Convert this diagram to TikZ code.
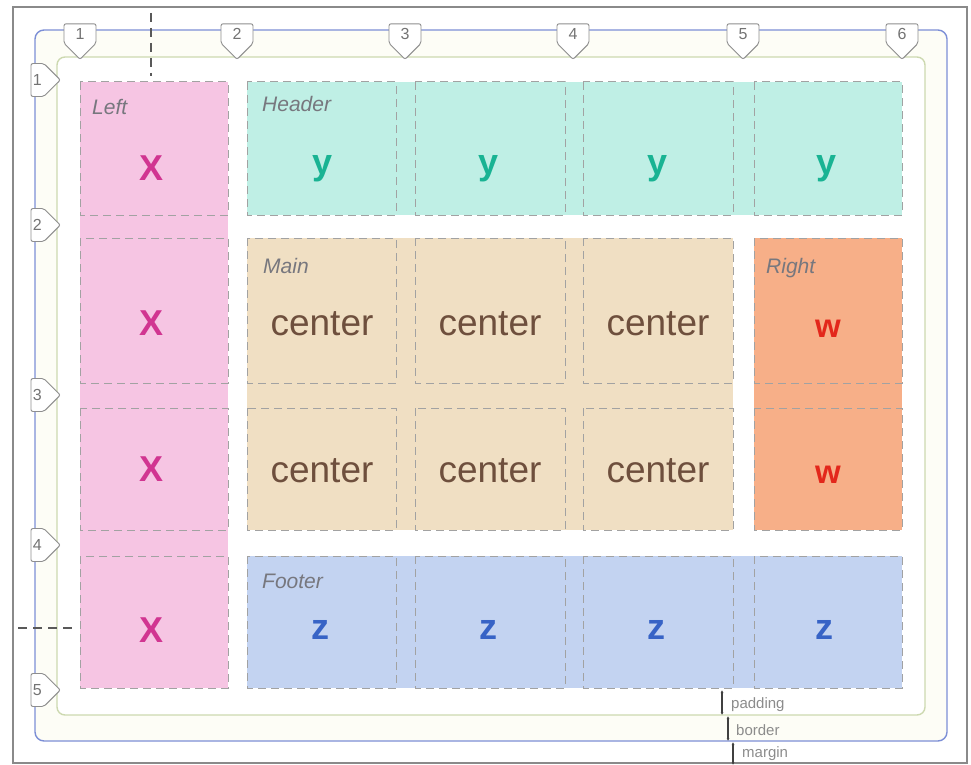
\documentclass[tikz,border=0pt]{standalone}
\usepackage{fontspec}
\setmainfont{Liberation Sans}
\usetikzlibrary{shapes.symbols,arrows.meta}

\definecolor{framegray}{HTML}{8A8A8A}
\definecolor{marginblue}{HTML}{7C8FD6}
\definecolor{bordergreen}{HTML}{CDD9B0}
\definecolor{creambg}{HTML}{FDFDF6}
\definecolor{cellgray}{HTML}{A2A2A2}
\definecolor{labelgray}{HTML}{77777E}
\definecolor{markgray}{HTML}{8E8E8E}
\definecolor{pinkfill}{HTML}{F6C5E3}
\definecolor{xcol}{HTML}{D13591}
\definecolor{tealfill}{HTML}{BFEFE5}
\definecolor{ycol}{HTML}{19B393}
\definecolor{tanfill}{HTML}{F0DFC3}
\definecolor{centercol}{HTML}{6E4F3D}
\definecolor{orangefill}{HTML}{F7AF88}
\definecolor{wcol}{HTML}{E3271B}
\definecolor{bluefill}{HTML}{C3D3F1}
\definecolor{zcol}{HTML}{3763C6}

\tikzset{
  cellbox/.style={draw=cellgray, line width=1pt, dash pattern=on 8pt off 5pt},
  areaname/.style={anchor=base west, text=labelgray, font=\itshape\fontsize{21}{21}\selectfont, inner sep=0pt},
  bigletter/.style={anchor=base, font=\bfseries\fontsize{36}{36}\selectfont, inner sep=0pt},
  gridmark/.style={signal, draw=markgray, fill=white, line width=0.9pt, rounded corners=2pt,
    text=black!55, font=\fontsize{16}{16}\selectfont, inner sep=2pt},
  guide/.style={draw=black!65, line width=1.5pt, dash pattern=on 9pt off 6pt},
  gap/.style={draw=black!75, line width=1.2pt, {Latex[length=3pt,width=3pt]}-{Latex[length=3pt,width=3pt]}},
  gapname/.style={anchor=base west, text=black!45, font=\fontsize{15}{15}\selectfont, inner sep=0pt}
}

\begin{document}
\begin{tikzpicture}[x=1pt,y=-1pt]

      \useasboundingbox (0,0) rectangle (971,765);

      % outer frame, margin and border boxes
      \draw[framegray, line width=1.5pt] (13,7) rectangle (967,763);
      \draw[marginblue, line width=1.4pt, fill=creambg, rounded corners=9pt] (35,30) rectangle (947,741);
      \draw[bordergreen, line width=1.4pt, fill=white, rounded corners=8pt] (57,57) rectangle (925,715);

      % grid areas
      \fill[pinkfill]   (80,82)  rectangle (228,688);
      \fill[tealfill]   (247,82) rectangle (902,215);
      \fill[tanfill]    (247,238) rectangle (733,530);
      \fill[orangefill] (754,238) rectangle (902,530);
      \fill[bluefill]   (247,556) rectangle (902,688);

      % grid cells
      \foreach \xa/\xb in {80/228,247/396,415/565,583/733,754/902}
        \foreach \ya/\yb in {82/215,238/383,408/530,556/688}
          \draw[cellbox] (\xa,\ya) rectangle (\xb,\yb);

      % alignment guides
      \coordinate (gv1) at (151,13);
      \coordinate (gv2) at (151,76);
      \coordinate (gh1) at (18,628);
      \coordinate (gh2) at (76,628);
      \draw[guide] (gv1) -- (gv2);
      \draw[guide] (gh1) -- (gh2);

      \begin{scope}[every node/.style={areaname}]
        \node (left)   at (92,115)  {Left};
        \node (header) at (262,112) {Header};
        \node (main)   at (263,273) {Main};
        \node (right)  at (766,273) {Right};
        \node (footer) at (262,588) {Footer};
      \end{scope}

      \begin{scope}[every node/.style={bigletter}]
        \node[text=xcol] (x1) at (152,180) {X};
        \node[text=xcol] (x2) at (152,335) {X};
        \node[text=xcol] (x3) at (152,481) {X};
        \node[text=xcol] (x4) at (152,642) {X};
        \node[text=ycol] (y1) at (323,174) {y};
        \node[text=ycol] (y2) at (489,174) {y};
        \node[text=ycol] (y3) at (658,174) {y};
        \node[text=ycol] (y4) at (826,174) {y};
        \node[text=wcol, font=\bfseries\fontsize{33}{33}\selectfont] (w1) at (828,337) {w};
        \node[text=wcol, font=\bfseries\fontsize{33}{33}\selectfont] (w2) at (828,483) {w};
        \node[text=zcol] (z1) at (320,639) {z};
        \node[text=zcol] (z2) at (488,639) {z};
        \node[text=zcol] (z3) at (656,639) {z};
        \node[text=zcol] (z4) at (824,639) {z};
      \end{scope}

      \begin{scope}[every node/.style={anchor=base, text=centercol, font=\fontsize{37}{37}\selectfont, inner sep=0pt}]
        \node (m1) at (322,335) {center};
        \node (m2) at (490,335) {center};
        \node (m3) at (658,335) {center};
        \node (m4) at (322,482) {center};
        \node (m5) at (490,482) {center};
        \node (m6) at (658,482) {center};
      \end{scope}

      % grid line numbers
      \begin{scope}[every node/.style={gridmark, signal to=south, anchor=south, minimum width=32pt, minimum height=26pt}]
        \node (c1) at (80,60)  {1};
        \node (c2) at (237,60) {2};
        \node (c3) at (405,60) {3};
        \node (c4) at (573,60) {4};
        \node (c5) at (743,60) {5};
        \node (c6) at (902,60) {6};
      \end{scope}
      \begin{scope}[every node/.style={gridmark, signal to=east, anchor=east, minimum width=26pt, minimum height=33pt}]
        \node (r1) at (61,80)  {1};
        \node (r2) at (61,225) {2};
        \node (r3) at (61,395) {3};
        \node (r4) at (61,545) {4};
        \node (r5) at (61,690) {5};
      \end{scope}

      % box model gaps
      \coordinate (pad1) at (722,690);
      \coordinate (pad2) at (722,715);
      \coordinate (bor1) at (728,716);
      \coordinate (bor2) at (728,741);
      \coordinate (mar1) at (733,742);
      \coordinate (mar2) at (733,765);
      \draw[gap] (pad1) -- (pad2);
      \draw[gap] (bor1) -- (bor2);
      \draw[gap] (mar1) -- (mar2);
      \begin{scope}[every node/.style={gapname}]
        \node (padding) at (731,708) {padding};
        \node (border)  at (736,735) {border};
        \node (margin)  at (742,757) {margin};
      \end{scope}

    \end{tikzpicture}
\end{document}
